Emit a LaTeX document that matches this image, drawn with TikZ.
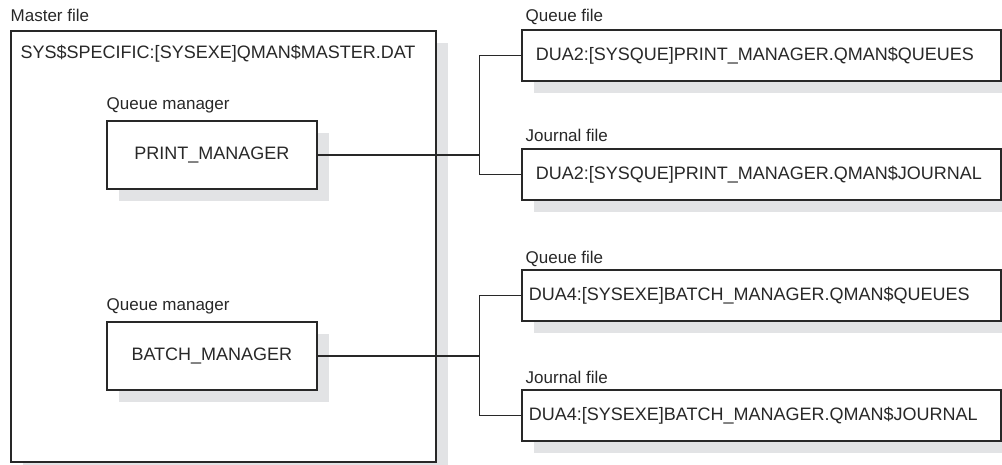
\documentclass[tikz,border=0pt]{standalone}
\usepackage{fontspec}
\setmainfont{Liberation Sans}
\usetikzlibrary{shadows}
\definecolor{linegray}{RGB}{40,40,40}
\definecolor{shadegray}{RGB}{226,227,229}
\begin{document}
\begin{tikzpicture}[x=1pt, y=-1pt, line width=1.4pt, draw=linegray,
  box/.style = {draw=linegray, line width=1.7pt, fill=white, rectangle, anchor=north west,
    general shadow={fill=shadegray, shadow xshift=12pt, shadow yshift=-12pt},
    font=\fontsize{18}{20}\selectfont, text=linegray},
  mgr/.style = {box, minimum width=210pt, minimum height=68pt, inner sep=0pt},
  filebox/.style = {box, minimum height=51pt, inner ysep=0pt, inner xsep=#1, text width=479pt-2*#1, align=left},
  caption/.style = {anchor=base west, inner sep=0pt, font=\fontsize{17}{19}\selectfont, text=linegray}]
  \useasboundingbox (0,0) rectangle (1002,465);
  % master file
  \node[box, minimum width=425pt, minimum height=431pt] (master) at (10,30) {};
  \node[caption] (masterlbl) at (10,22) {Master file};
  \node[anchor=base west, inner sep=0pt, font=\fontsize{18}{20}\selectfont, text=linegray] (masterpath) at (20,59) {SYS\$SPECIFIC:[SYSEXE]QMAN\$MASTER.DAT};
  % queue managers
  \node[mgr] (print) at (106,120) {PRINT\_MANAGER};
  \node[caption] (printlbl) at (106,110) {Queue manager};
  \node[mgr] (batch) at (106,321) {BATCH\_MANAGER};
  \node[caption] (batchlbl) at (106,311) {Queue manager};
  % files
  \node[filebox=14pt] (pqueue) at (521,29) {DUA2:[SYSQUE]PRINT\_MANAGER.QMAN\$QUEUES};
  \node[caption] (pqueuelbl) at (525,22) {Queue file};
  \node[filebox=14pt] (pjournal) at (521,148) {DUA2:[SYSQUE]PRINT\_MANAGER.QMAN\$JOURNAL};
  \node[caption] (pjournallbl) at (525,142) {Journal file};
  \node[filebox=7pt] (bqueue) at (521,269) {DUA4:[SYSEXE]BATCH\_MANAGER.QMAN\$QUEUES};
  \node[caption] (bqueuelbl) at (525,264) {Queue file};
  \node[filebox=7pt] (bjournal) at (521,389) {DUA4:[SYSEXE]BATCH\_MANAGER.QMAN\$JOURNAL};
  \node[caption] (bjournallbl) at (525,383) {Journal file};
  % connectors
  \path (print.east) -- ++(162,0) coordinate (pfork);
  \path (batch.east) -- ++(162,0) coordinate (bfork);
  \draw[-] (print.east) -- (pfork);
  \draw[-] (pqueue.west) -| (pfork) |- (pjournal.west);
  \draw[-] (batch.east) -- (bfork);
  \draw[-] (bqueue.west) -| (bfork) |- (bjournal.west);
\end{tikzpicture}
\end{document}
